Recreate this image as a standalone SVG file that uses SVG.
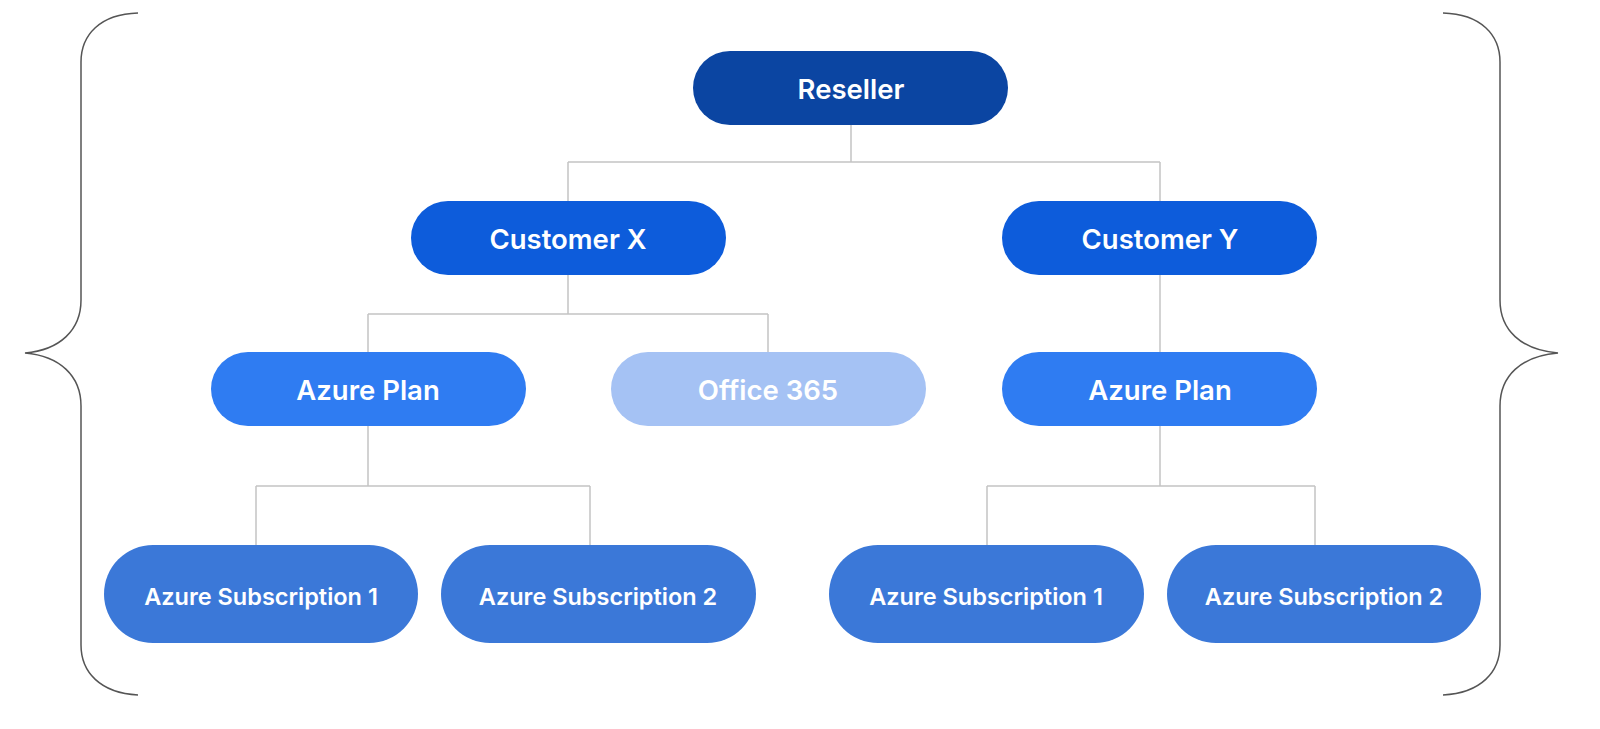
<svg xmlns="http://www.w3.org/2000/svg" width="1600" height="729" viewBox="0 0 1600 729">
<style>
.n text{font-family:"Inter","Open Sans","Liberation Sans",sans-serif;font-weight:600;fill:#fff;text-anchor:middle;dominant-baseline:central}
.big{font-size:27.5px}
.sm{font-size:23.5px}
.c{fill:none;stroke:#c4c4c4;stroke-width:1.5}
.br{fill:none;stroke:#555;stroke-width:1.5}
</style>
<rect width="1600" height="729" fill="#fff"/>
<g id="braces">
<path class="br" d="M138,13 C100,14 81,35 81,62 L81,300 C81,330 60,350 25,353 C60,356 81,376 81,406 L81,645 C81,672 100,693 138,695"/>
<path class="br" d="M1443,13 C1481,14 1500,35 1500,62 L1500,300 C1500,330 1521,350 1558,353 C1521,356 1500,376 1500,406 L1500,645 C1500,672 1481,693 1443,695"/>
</g>
<g id="connectors">
<path class="c" d="M851,125 V162 M568,162 H1160 M568,162 V201 M1160,162 V201"/>
<path class="c" d="M568,275 V314 M368,314 H768 M368,314 V352 M768,314 V352"/>
<path class="c" d="M1160,275 V352"/>
<path class="c" d="M368,426 V486 M256,486 H590 M256,486 V545 M590,486 V545"/>
<path class="c" d="M1160,426 V486 M987,486 H1315 M987,486 V545 M1315,486 V545"/>
</g>
<g id="reseller" class="n"><rect x="693" y="51" width="315" height="74" rx="37" fill="#0B45A2"/><text class="big" x="851" y="89">Reseller</text></g>
<g id="customer-x" class="n"><rect x="411" y="201" width="315" height="74" rx="37" fill="#0D5CDB"/><text class="big" x="568" y="239">Customer X</text></g>
<g id="customer-y" class="n"><rect x="1002" y="201" width="315" height="74" rx="37" fill="#0D5CDB"/><text class="big" x="1160" y="239">Customer Y</text></g>
<g id="azure-plan-x" class="n"><rect x="211" y="352" width="315" height="74" rx="37" fill="#2F7CF2"/><text class="big" x="368" y="390">Azure Plan</text></g>
<g id="office-365" class="n"><rect x="611" y="352" width="315" height="74" rx="37" fill="#A5C2F4"/><text class="big" x="768" y="390">Office 365</text></g>
<g id="azure-plan-y" class="n"><rect x="1002" y="352" width="315" height="74" rx="37" fill="#2F7CF2"/><text class="big" x="1160" y="390">Azure Plan</text></g>
<g id="sub-x1" class="n"><rect x="104" y="545" width="314" height="98" rx="49" fill="#3B78D8"/><text class="sm" x="261" y="596">Azure Subscription 1</text></g>
<g id="sub-x2" class="n"><rect x="441" y="545" width="315" height="98" rx="49" fill="#3B78D8"/><text class="sm" x="598" y="596">Azure Subscription 2</text></g>
<g id="sub-y1" class="n"><rect x="829" y="545" width="315" height="98" rx="49" fill="#3B78D8"/><text class="sm" x="986" y="596">Azure Subscription 1</text></g>
<g id="sub-y2" class="n"><rect x="1167" y="545" width="314" height="98" rx="49" fill="#3B78D8"/><text class="sm" x="1324" y="596">Azure Subscription 2</text></g>
</svg>
